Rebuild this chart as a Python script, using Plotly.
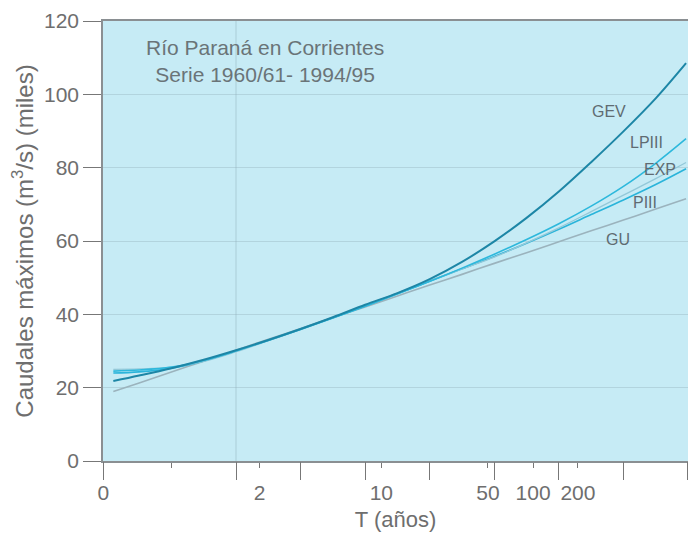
import numpy as np
import plotly.graph_objects as go

# Gumbel reduced variate positions of the curve points
u = [-1.9, -1.5, -1.0, -0.5, 0.0, 0.5, 1.0, 1.5, 2.0, 2.5, 3.0, 3.5, 4.0, 4.5, 5.0, 5.5, 6.0, 6.5, 6.97]

# Caudales máximos (miles de m3/s)
GEV = [21.8, 23.3, 25.3, 27.6, 30.2, 33.0, 36.0, 39.2, 42.6, 45.8, 49.6, 54.3, 59.9, 66.3, 73.5, 81.5, 89.9, 98.9, 108.5]
LPIII = [24.5, 24.8, 25.6, 27.4, 30.0, 32.9, 35.9, 39.0, 42.2, 45.6, 49.0, 52.6, 56.4, 60.4, 64.7, 69.5, 74.9, 81.2, 87.9]
EXP = [25.0, 25.1, 25.6, 27.2, 29.8, 32.8, 35.9, 39.2, 42.4, 45.8, 49.2, 52.4, 55.6, 59.5, 63.6, 68.0, 72.5, 77.0, 81.4]
PIII = [24.0, 24.3, 25.3, 27.3, 30.0, 33.0, 36.0, 39.1, 42.3, 45.6, 49.0, 52.4, 55.8, 59.4, 63.2, 67.2, 71.2, 75.4, 79.7]
GU = [18.95, 21.3, 24.3, 27.2, 30.2, 33.2, 36.1, 39.1, 42.0, 45.0, 48.0, 50.9, 53.9, 56.8, 59.8, 62.8, 65.7, 68.7, 71.5]

T_ticks = [2, 10, 50, 100, 200]
T_text = ["2", "10", "50", "100", "200"]
y_ticks = [0, 20, 40, 60, 80, 100, 120]


def gumbel(T):
    T = np.asarray(T, dtype=float)
    return -np.log(-np.log(1 - 1 / T))


X_MIN, X_MAX = -2.06, 7.0
u_left = -2.054
FONT = "Liberation Sans, Arial, sans-serif"
TXT = "#6e6e6e"

series = [
    ("GU", GU, "#9bb3bd", 1.6),
    ("PIII", PIII, "#2ab4da", 1.6),
    ("EXP", EXP, "#93c8d8", 1.3),
    ("LPIII", LPIII, "#2db8dc", 1.6),
    ("GEV", GEV, "#1d86a6", 2.0),
]

fig = go.Figure()
for name, vals, color, w in series:
    fig.add_trace(go.Scatter(x=u, y=vals, mode="lines", name=name,
                             line=dict(color=color, width=w, shape="spline"),
                             showlegend=False, hoverinfo="skip"))
# empty trace to bind the overlay axis carrying the long ticks
fig.add_trace(go.Scatter(x=[None], y=[None], xaxis="x2", yaxis="y", showlegend=False,
                         hoverinfo="skip", mode="lines"))

label_pos = {
    "GEV": (5.78, 95.2),
    "LPIII": (6.35, 87.0),
    "EXP": (6.57, 79.4),
    "PIII": (6.34, 70.4),
    "GU": (5.92, 60.3),
}
for name, (xx, yy) in label_pos.items():
    fig.add_annotation(x=xx, y=yy, text=name, showarrow=False,
                       font=dict(family=FONT, size=16, color="#5f6b72"))

fig.add_annotation(x=(265 - 103) / 585, y=(461 - 61) / 440, xref="paper", yref="paper",
                   xanchor="center", yanchor="middle",
                   text="Río Paraná en Corrientes<br>Serie 1960/61- 1994/95",
                   showarrow=False, align="center",
                   font=dict(family=FONT, size=21, color="#6a7478"))

# faint vertical grid line at u = 0
fig.add_shape(type="line", x0=0, x1=0, y0=0, y1=120, xref="x", yref="y",
              line=dict(color="rgba(140,170,180,0.45)", width=1), layer="below")

tickvals = [u_left] + list(gumbel(T_ticks))
ticktext = ["0"] + T_text

# the page body adds an 8 px offset, so the figure is 8 px smaller
fig.update_layout(
    width=688, height=527,
    margin=dict(l=95, r=8, t=13, b=74),
    paper_bgcolor="white",
    plot_bgcolor="#c6ebf5",
    font=dict(family=FONT, color=TXT),
    xaxis=dict(
        range=[X_MIN, X_MAX], automargin=False,
        tickmode="array", tickvals=tickvals, ticktext=ticktext,
        ticks="outside", ticklen=5, tickwidth=1.2, tickcolor="#777777",
        ticklabelstandoff=7,
        minor=dict(tickmode="array", tickvals=[-1.0],
                   ticks="outside", ticklen=5, tickwidth=1.2, tickcolor="#777777",
                   showgrid=False),
        showgrid=False, zeroline=False,
        showline=True, linecolor="#8a8f92", linewidth=1.5, mirror=True,
        tickfont=dict(size=21, color=TXT),
        title=dict(text="T (años)", font=dict(size=22, color=TXT), standoff=9),
    ),
    xaxis2=dict(
        range=[X_MIN, X_MAX], overlaying="x", side="bottom", anchor="y",
        automargin=False,
        tickmode="array", tickvals=[-2.05, 0, 1, 2, 3, 4, 5, 6, 6.995],
        ticks="outside", ticklen=18, tickwidth=1.3, tickcolor="#777777",
        showticklabels=False, showgrid=False, zeroline=False, showline=False,
    ),
    yaxis=dict(
        range=[0, 120], automargin=False,
        tickmode="array", tickvals=y_ticks,
        ticks="outside", ticklen=18, tickwidth=1.2, tickcolor="#777777",
        showgrid=True, gridcolor="rgba(140,170,180,0.35)", gridwidth=1,
        zeroline=False,
        showline=True, linecolor="#8a8f92", linewidth=1.5, mirror=True,
        tickfont=dict(size=21, color=TXT),
        title=dict(text="Caudales máximos (m<sup>3</sup>/s) (miles)",
                   font=dict(size=24, color=TXT), standoff=9),
    ),
)

fig.write_html("out.html")
